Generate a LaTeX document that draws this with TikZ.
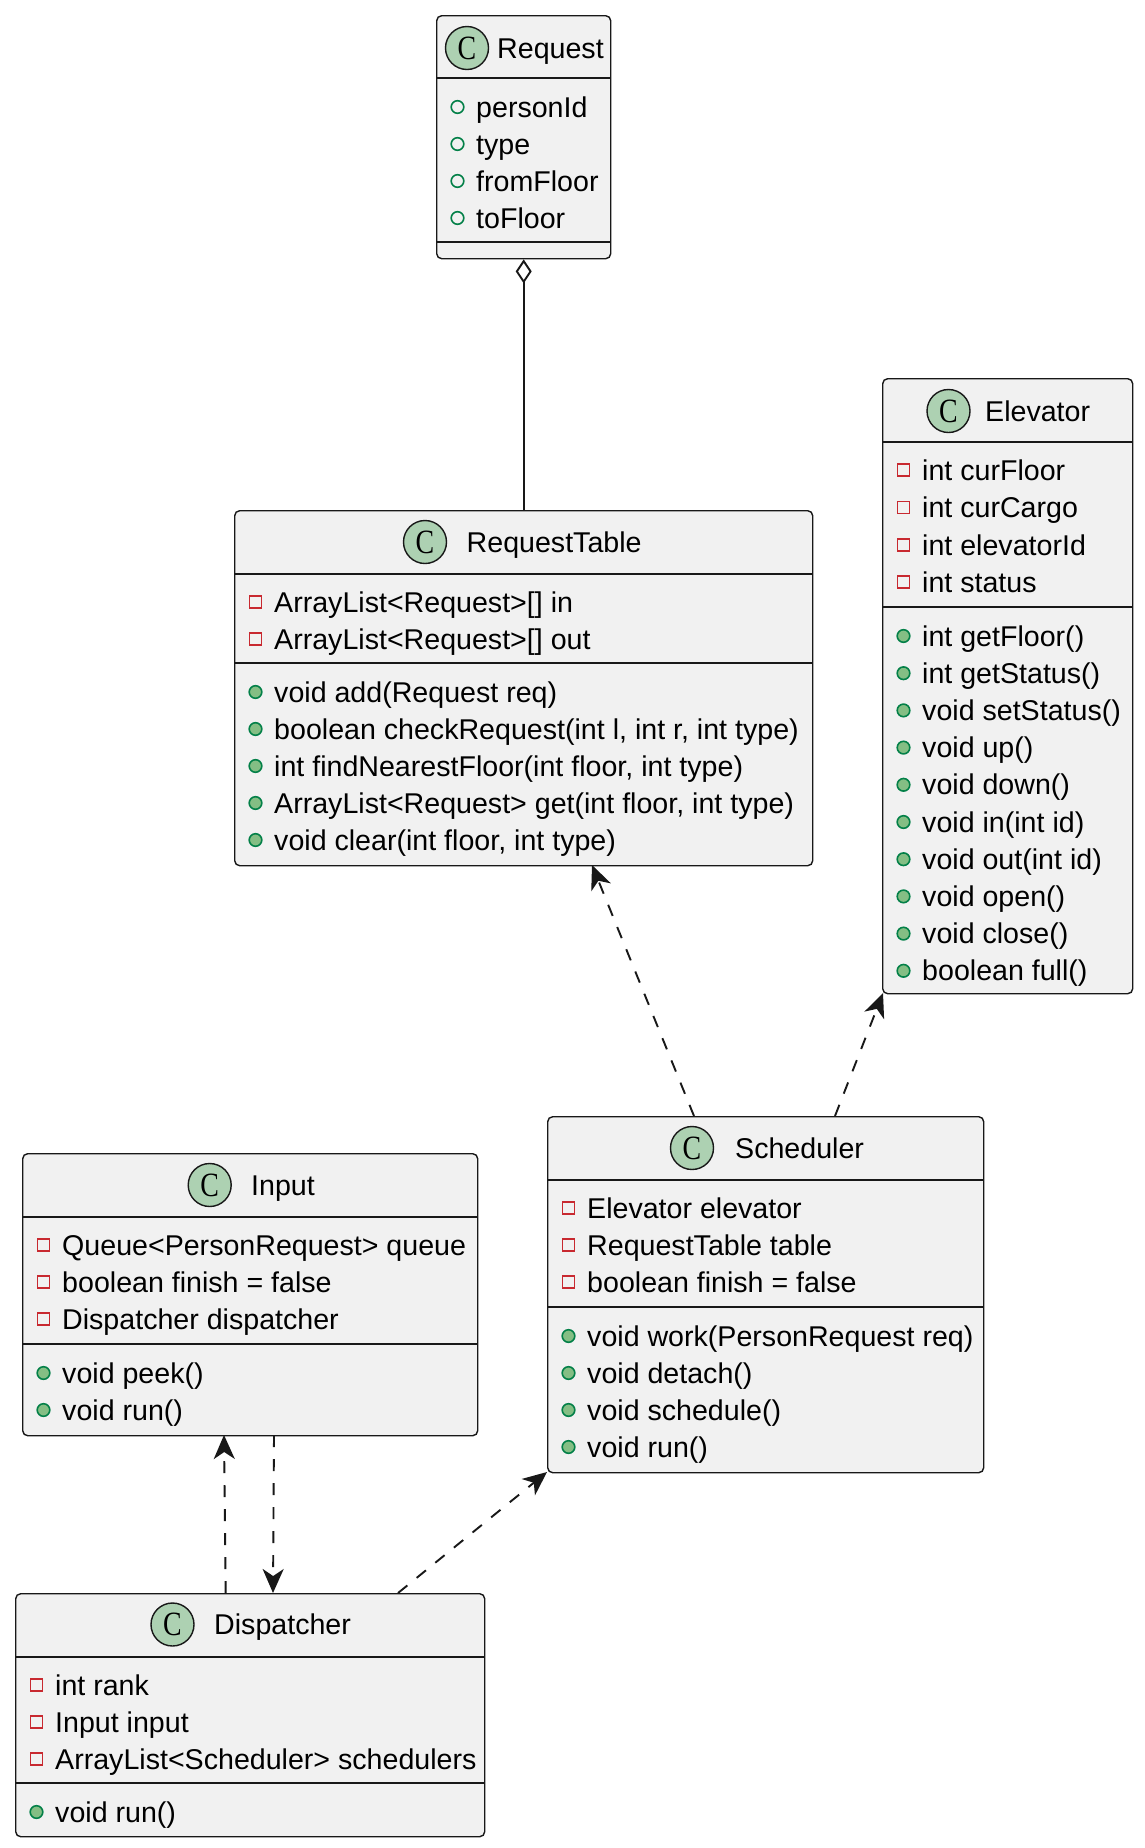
\documentclass[tikz,border=0pt]{standalone}
\usepackage{fontspec}
\setmainfont{Liberation Sans}
\newfontfamily\cfont{Liberation Serif}
\usetikzlibrary{arrows.meta}
\definecolor{boxbg}{HTML}{F1F1F1}
\definecolor{lc}{HTML}{181818}
\definecolor{cbg}{HTML}{ADD1B2}
\definecolor{privc}{HTML}{C82930}
\definecolor{pubf}{HTML}{84BE84}
\definecolor{pubs}{HTML}{038048}
% name, box-left, row-center-y, text
\newcommand\privrow[4]{%
  \draw[privicon] ({#2+15.5},{#3-6}) rectangle ++(12,12);
  \node[txt] (#1) at ({#2+40},{#3+10}) {#4};}
\newcommand\pubrow[4]{%
  \draw[pubicon] ({#2+21.5},{#3}) circle[radius=6.3];
  \node[txt] (#1) at ({#2+40},{#3+10}) {#4};}
\newcommand\pubfrow[4]{%
  \draw[pubficon] ({#2+21.5},{#3}) circle[radius=6.3];
  \node[txt] (#1) at ({#2+40},{#3+10}) {#4};}
% name, circle-x, circle-y, title-x, title
\newcommand\classhead[5]{%
  \node[cicon] (#1c) at (#2,#3) {\scalebox{0.82}[1]{C}};
  \node[txt] (#1t) at (#4,{#3+10}) {#5};}
\begin{document}
\begin{tikzpicture}[x=1pt,y=-1pt,
 cls/.style={draw=lc, fill=boxbg, line width=1.4pt, rounded corners=5pt, anchor=north west, inner sep=0pt},
 sepl/.style={draw=lc, line width=1.4pt},
 txt/.style={anchor=base west, inner sep=0pt, font=\fontsize{28.6}{34}\selectfont, text=black},
 cicon/.style={circle, draw=lc, fill=cbg, line width=1.4pt, minimum size=43pt, inner sep=0pt, font=\cfont\fontsize{34}{34}\selectfont},
 privicon/.style={draw=privc, line width=1.6pt},
 pubicon/.style={draw=pubs, fill=pubf, line width=1.6pt},
 pubficon/.style={draw=pubs, line width=1.6pt},
 dep/.style={draw=lc, line width=1.9pt, dash pattern=on 12pt off 12pt, -{Stealth[length=24pt,width=21pt,inset=7pt]}},
 agg/.style={draw=lc, line width=1.9pt, {Diamond[fill=white,length=24pt,width=16pt]}-},
]
\useasboundingbox (0,0) rectangle (1144,1848);
\fill[white] (0,0) rectangle (1144,1848);

% ---- Request ----
\node[cls, minimum width=174pt, minimum height=243pt] (req) at (436,15) {};
\classhead{req}{467}{48}{497}{Request}
\draw[sepl] (436,78) -- (610,78);
\pubfrow{req1}{436}{107}{personId}
\pubfrow{req2}{436}{144}{type}
\pubfrow{req3}{436}{181}{fromFloor}
\pubfrow{req4}{436}{218}{toFloor}
\draw[sepl] (436,242) -- (610,242);

% ---- RequestTable ----
\node[cls, minimum width=578pt, minimum height=355pt] (tab) at (234,510) {};
\classhead{tab}{425}{542}{466.5}{RequestTable}
\draw[sepl] (234,574) -- (812,574);
\privrow{tab1}{234}{602}{ArrayList<Request>[] in}
\privrow{tab2}{234}{639}{ArrayList<Request>[] out}
\draw[sepl] (234,663) -- (812,663);
\pubrow{tab3}{234}{692}{void add(Request req)}
\pubrow{tab4}{234}{729}{boolean checkRequest(int l, int r, int type)}
\pubrow{tab5}{234}{766}{int findNearestFloor(int floor, int type)}
\pubrow{tab6}{234}{803}{ArrayList<Request> get(int floor, int type)}
\pubrow{tab7}{234}{840}{void clear(int floor, int type)}

% ---- Elevator ----
\node[cls, minimum width=250pt, minimum height=615pt] (elev) at (882,378) {};
\classhead{elev}{948.5}{411}{985}{Elevator}
\draw[sepl] (882,442) -- (1132,442);
\privrow{el1}{882}{470}{int curFloor}
\privrow{el2}{882}{507.5}{int curCargo}
\privrow{el3}{882}{545}{int elevatorId}
\privrow{el4}{882}{582}{int status}
\draw[sepl] (882,607) -- (1132,607);
\pubrow{el5}{882}{636}{int getFloor()}
\pubrow{el6}{882}{673.2}{int getStatus()}
\pubrow{el7}{882}{710.4}{void setStatus()}
\pubrow{el8}{882}{747.6}{void up()}
\pubrow{el9}{882}{784.8}{void down()}
\pubrow{el10}{882}{822}{void in(int id)}
\pubrow{el11}{882}{859.2}{void out(int id)}
\pubrow{el12}{882}{896.4}{void open()}
\pubrow{el13}{882}{933.6}{void close()}
\pubrow{el14}{882}{970.8}{boolean full()}

% ---- Scheduler ----
\node[cls, minimum width=436pt, minimum height=356pt] (sched) at (547,1116) {};
\classhead{sched}{692}{1148}{735}{Scheduler}
\draw[sepl] (547,1180) -- (983,1180);
\privrow{sc1}{547}{1208}{Elevator elevator}
\privrow{sc2}{547}{1245}{RequestTable table}
\privrow{sc3}{547}{1282}{boolean finish = false}
\draw[sepl] (547,1307) -- (983,1307);
\pubrow{sc4}{547}{1336}{void work(PersonRequest req)}
\pubrow{sc5}{547}{1373}{void detach()}
\pubrow{sc6}{547}{1410}{void schedule()}
\pubrow{sc7}{547}{1447}{void run()}

% ---- Input ----
\node[cls, minimum width=455pt, minimum height=282pt] (inp) at (22,1153) {};
\classhead{inp}{209.7}{1185}{251}{Input}
\draw[sepl] (22,1217) -- (477,1217);
\privrow{in1}{22}{1245}{Queue<PersonRequest> queue}
\privrow{in2}{22}{1282}{boolean finish = false}
\privrow{in3}{22}{1319}{Dispatcher dispatcher}
\draw[sepl] (22,1344) -- (477,1344);
\pubrow{in4}{22}{1373}{void peek()}
\pubrow{in5}{22}{1410}{void run()}

% ---- Dispatcher ----
\node[cls, minimum width=469pt, minimum height=243pt] (disp) at (15,1593) {};
\classhead{disp}{172.5}{1624.5}{214}{Dispatcher}
\draw[sepl] (15,1657) -- (484,1657);
\privrow{di1}{15}{1685}{int rank}
\privrow{di2}{15}{1722}{Input input}
\privrow{di3}{15}{1759}{ArrayList<Scheduler> schedulers}
\draw[sepl] (15,1783) -- (484,1783);
\pubrow{di4}{15}{1812}{void run()}

% ---- connector end points ----
\coordinate (schedA) at (694,1116);
\coordinate (tabB) at (592,865);
\coordinate (schedB) at (835,1116);
\coordinate (elevB) at (883,993);
\coordinate (dispA) at (225.7,1593);
\coordinate (inpA) at (224,1435);
\coordinate (inpB) at (274,1435);
\coordinate (dispB) at (273,1593);
\coordinate (dispC) at (398,1593);
\coordinate (schedC) at (547,1472);

% ---- connectors ----
\draw[agg] (req.south) -- (tab.north);
\draw[dep] (schedA) -- (tabB);
\draw[dep] (schedB) -- (elevB);
\draw[dep] (dispA) -- (inpA);
\draw[dep] (inpB) -- (dispB);
\draw[dep] (dispC) -- (schedC);
\end{tikzpicture}
\end{document}
